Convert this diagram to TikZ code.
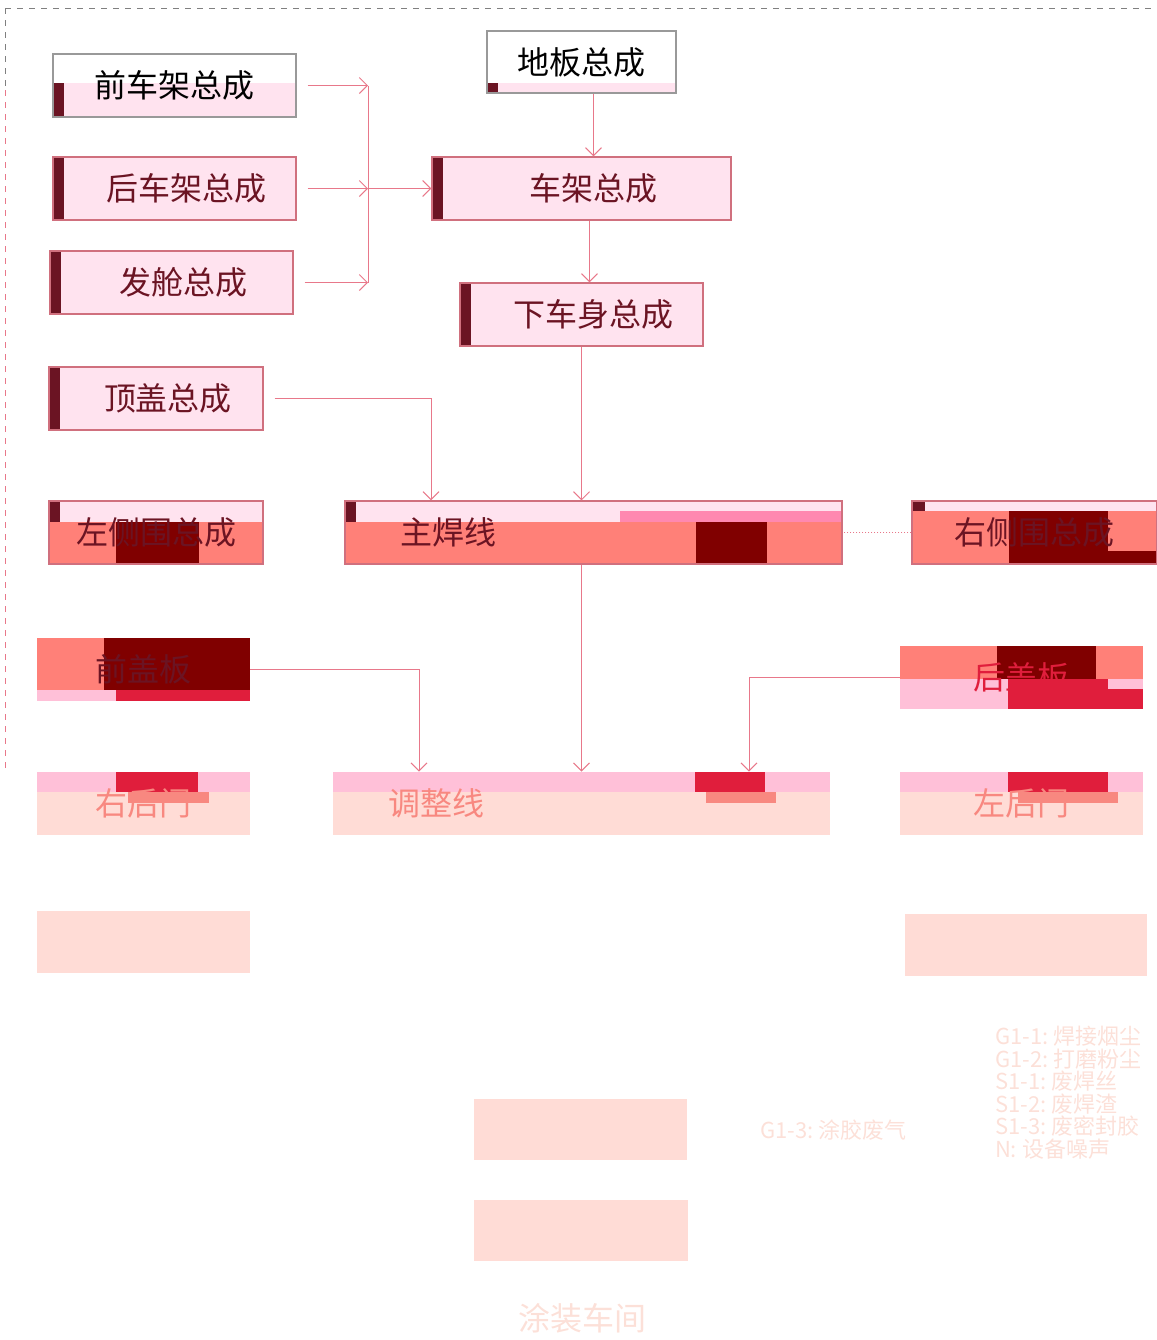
\documentclass[tikz,border=0pt]{standalone}
\usepackage{fontspec}
\newfontfamily\cjk{Noto Sans CJK SC}
\usetikzlibrary{arrows.meta,backgrounds}

\definecolor{boxfill}{HTML}{FFE3EF}
\definecolor{boxline}{HTML}{D0707E}
\definecolor{barcol}{HTML}{6B1423}
\definecolor{linecol}{HTML}{E8788A}
\definecolor{salmon}{HTML}{FF8078}
\definecolor{darkred}{HTML}{800000}
\definecolor{crimson}{HTML}{E01E3C}
\definecolor{rosepink}{HTML}{FFC0D8}
\definecolor{hotpink}{HTML}{FF88B0}
\definecolor{peach}{HTML}{FFDCD6}
\definecolor{peachbar}{HTML}{F88880}
\definecolor{fadetext}{HTML}{FCE0D8}

\tikzset{
  boxfont/.style={font=\cjk\fontsize{16}{19}\selectfont},
  partbox/.style={rectangle, draw=boxline, fill=boxfill, line width=0.6pt, inner sep=0pt,
    minimum height=31.5pt, text=barcol, boxfont, execute at begin node={\kern12pt},
    path picture={\fill[barcol] (path picture bounding box.north west)
      rectangle ([xshift=5.5pt]path picture bounding box.south west);}},
  blankbox/.style={rectangle, draw=gray!80, line width=0.6pt, inner sep=0pt,
    minimum height=31.5pt, text=black, boxfont},
  linebox/.style={rectangle, draw=boxline, line width=0.6pt, inner sep=0pt,
    minimum height=31.5pt, text=barcol, boxfont},
  fadebox/.style={rectangle, inner sep=0pt, minimum height=31.5pt, boxfont},
  widebox/.style={inner xsep=27.5pt, text width=193.5pt, align=left},
  peachbox/.style={rectangle, fill=peach, inner sep=0pt, minimum height=31pt},
  legendfont/.style={text=fadetext, font=\cjk\fontsize{11}{11.3}\selectfont},
  link/.style={draw=linecol, line width=0.5pt},
}

\begin{document}
\begin{tikzpicture}[x=0.5pt, y=-0.5pt, >={Straight Barb[length=4pt,width=8pt]}]
\useasboundingbox (0,0) rectangle (1157,1340);

% frame
\draw[gray, dashed, line width=0.5pt] (5,8) -- (1157,8);
\draw[gray, dashed, line width=0.5pt] (5,8) -- (5,90);
\draw[linecol, dashed, line width=0.5pt] (5,90) -- (5,770);

% frame parts
\node[blankbox, minimum width=121.5pt] (front) at (174.5,85.5) {前车架总成};
\node[partbox, minimum width=121.5pt] (rear) at (174.5,188.5) {后车架总成};
\node[partbox, minimum width=121.5pt] (cabin) at (171.5,282.5) {发舱总成};
\node[partbox, minimum width=107pt] (roof) at (156,398.5) {顶盖总成};

% centre column
\node[blankbox, minimum width=94.5pt, minimum height=31pt] (floor) at (581.5,62) {地板总成};
\node[partbox, minimum width=149.5pt] (frame) at (581.5,188.5) {车架总成};
\node[partbox, minimum width=121.5pt] (underbody) at (581.5,314.5) {下车身总成};

% main line row
\node[linebox, minimum width=107pt] (lside) at (156,532.5) {左侧围总成};
\node[linebox, widebox, minimum width=248.5pt] (mainline) at (593.5,532.5) {主焊线};
\node[linebox, minimum width=122.5pt] (rside) at (1034.5,532.5) {右侧围总成};

% closures
\node[fadebox, minimum width=106.5pt, text=barcol] (hoodL) at (143.5,669.5) {前盖板};
\node[fadebox, minimum width=121.5pt, text=crimson] (hoodR) at (1021.5,677.5) {后盖板};
\node[fadebox, minimum width=106.5pt, text=peachbar] (doorL) at (143.5,803.5) {右后门};
\node[fadebox, widebox, minimum width=248.5pt, text=peachbar] (adjust) at (581.5,803.5) {调整线};
\node[fadebox, minimum width=121.5pt, text=peachbar] (doorR) at (1021.5,803.5) {左后门};

% faded lower boxes
\node[peachbox, minimum width=106.5pt] (lowL) at (143.5,942) {};
\node[peachbox, minimum width=121pt] (lowR) at (1026,945) {};
\node[peachbox, minimum width=106.5pt, minimum height=30.5pt] (check) at (580.5,1129.5) {};
\node[peachbox, minimum width=107pt, minimum height=30.5pt] (handover) at (581,1230.5) {};
\node[boxfont, text=fadetext] (paint) at (582,1318) {涂装车间};

% legend
\node[anchor=west, legendfont] (legendA) at (753,1130) {G1-3:\ 涂胶废气};
\node[anchor=north west, align=left, legendfont] (legendB) at (988,1019)
  {G1-1:\ 焊接烟尘\\G1-2:\ 打磨粉尘\\S1-1:\ 废焊丝\\S1-2:\ 废焊渣\\S1-3:\ 废密封胶\\N:\ 设备噪声};

% colour patches under the lower boxes
\begin{scope}[on background layer]
\foreach \xa/\ya/\xb/\yb in {53/83/296/117, 487/83/676/93, 49/501/263/522, 345/501/842/522, 912/501/1157/511}
  \fill[boxfill] (\xa,\ya) rectangle (\xb,\yb);
\foreach \xa/\ya/\xb/\yb in {53/83/64/117, 487/83/498/93, 49/501/60/522, 345/501/356/522, 912/501/925/511}
  \fill[barcol] (\xa,\ya) rectangle (\xb,\yb);
\fill[hotpink] (620,511) rectangle (842,522);
\foreach \xa/\ya/\xb/\yb in {49/522/263/564, 345/522/842/564, 912/511/1157/564, 37/638/104/690, 900/646/1143/679}
  \fill[salmon] (\xa,\ya) rectangle (\xb,\yb);
\foreach \xa/\ya/\xb/\yb in {116/522/199/564, 696/522/767/564, 1009/511/1108/564, 1108/551/1157/564, 104/638/250/690, 997/646/1096/679}
  \fill[darkred] (\xa,\ya) rectangle (\xb,\yb);
\foreach \xa/\ya/\xb/\yb in {37/690/116/701, 900/679/1143/709, 37/772/250/792, 333/772/830/792, 900/772/1143/792}
  \fill[rosepink] (\xa,\ya) rectangle (\xb,\yb);
\foreach \xa/\ya/\xb/\yb in {116/690/250/701, 1008/679/1108/709, 1108/689/1143/709, 116/772/198/792, 695/772/765/792, 1008/772/1108/792}
  \fill[crimson] (\xa,\ya) rectangle (\xb,\yb);
\foreach \xa/\xb in {37/250, 333/830, 900/1143}
  \fill[peach] (\xa,792) rectangle (\xb,835);
\foreach \xa/\xb in {128/209, 706/776, 1018/1118}
  \fill[peachbar] (\xa,792) rectangle (\xb,803);
\end{scope}

% collector bus
\coordinate (busTop) at (368,85.5);
\coordinate (busMid) at (368,188.5);
\coordinate (busBot) at (368,282.5);
\draw[link, ->, shorten <=5.5pt] (front.east) -- (busTop);
\draw[link, ->, shorten <=5.5pt] (rear.east) -- (busMid);
\draw[link, ->, shorten <=5.5pt] (cabin.east) -- (busBot);
\draw[link] (busTop) -- (busBot);
\draw[link, ->] (busMid) -- (frame.west);

% Arrows
\draw[link, ->] ([xshift=6pt]floor.south) -- ([xshift=6pt]floor.south |- frame.north);
\draw[link, ->] ([xshift=4pt]frame.south) -- ([xshift=4pt]frame.south |- underbody.north);
\draw[link, ->] (underbody.south) -- (underbody.south |- mainline.north);
\coordinate (roofTurn) at (431,398.5);
\draw[link, ->, shorten <=5.5pt] (roof.east) -- (roofTurn) -- (roofTurn |- mainline.north);
\draw[link, densely dotted] (rside.west) -- (mainline.east);
\draw[link, ->] (adjust.north |- mainline.south) -- (adjust.north);
\coordinate (doorTurnL) at (419,669.5);
\draw[link, ->] (hoodL.east) -- (doorTurnL) -- (doorTurnL |- adjust.north);
\coordinate (doorTurnR) at (749,677.5);
\draw[link, ->] (hoodR.west) -- (doorTurnR) -- (doorTurnR |- adjust.north);

\end{tikzpicture}
\end{document}
